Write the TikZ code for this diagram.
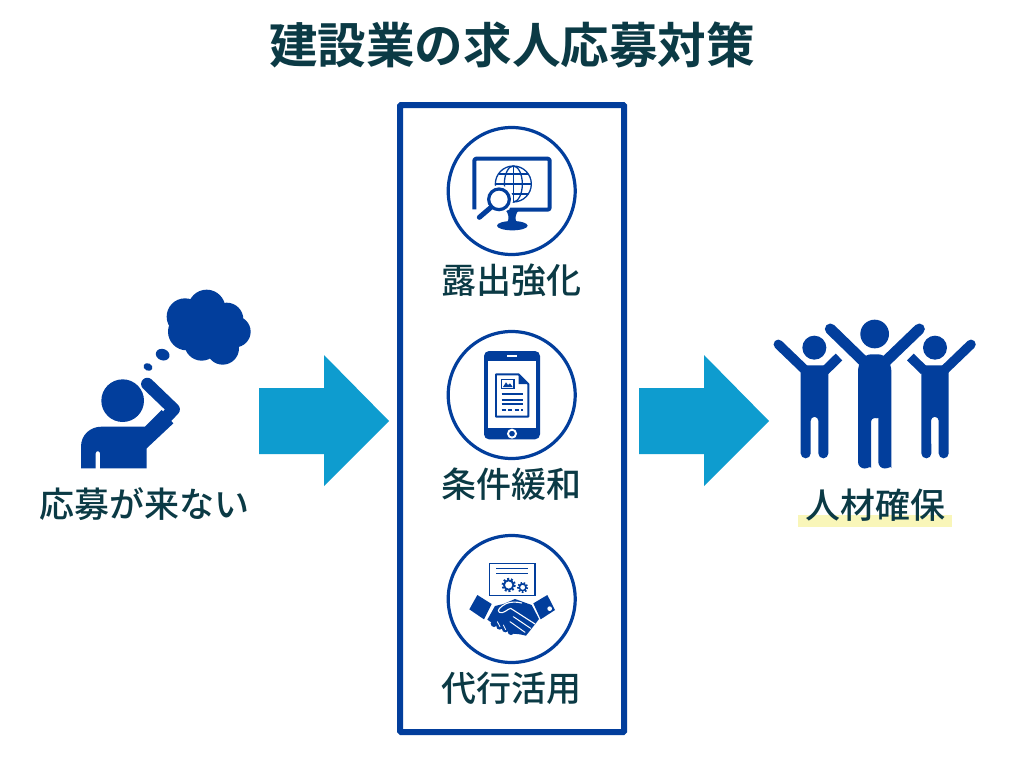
\documentclass[tikz,border=0pt]{standalone}
\usepackage{fontspec}
\newfontfamily\jpb{Noto Sans CJK JP}[UprightFont=* Bold]
\newfontfamily\jpm{Noto Sans CJK JP}[UprightFont=* Medium]
\definecolor{navy}{HTML}{023E9C}
\definecolor{sky}{HTML}{0E9CCF}
\definecolor{ink}{HTML}{0B3A45}
\definecolor{hilite}{HTML}{F9F6B9}
\tikzset{
  label text/.style={text=ink,font=\jpm\fontsize{35}{38}\selectfont,inner sep=0pt,anchor=center},
  badge/.style={draw=navy,line width=3.2pt,fill=white},
  bigarrow/.style={fill=sky,draw=none},
  zoomA/.style={shift={(420,110)},x=0.33333pt,y=-0.33333pt},
  zoomB/.style={shift={(420,320)},x=0.33333pt,y=-0.33333pt},
  zoomC/.style={shift={(420,525)},x=0.33333pt,y=-0.33333pt},
  zoomD/.style={shift={(30,280)},x=0.33333pt,y=-0.33333pt},
  zoomE/.style={shift={(765,310)},x=0.33333pt,y=-0.33333pt},
  limb/.style={draw=navy,line cap=round,line join=round},
}
\begin{document}
\begin{tikzpicture}[x=1pt,y=-1pt]
\useasboundingbox[fill=white] (0,0) rectangle (1024,768);
% title
\node[text=ink,font=\jpb\fontsize{48.6}{52}\selectfont,inner sep=0pt] (title) at (512,45) {建設業の求人応募対策};
% frame
\node[draw=navy,line width=6pt,minimum width=224pt,minimum height=627pt,inner sep=0pt,rounded corners=1pt] (frame) at (512,418.5) {};
% arrows
\fill[bigarrow] (259,388)--(324,388)--(324,355)--(389,421)--(324,486)--(324,454)--(259,454)--cycle;
\fill[bigarrow] (639,388)--(704,388)--(704,355)--(769,421)--(704,486)--(704,454)--(639,454)--cycle;
% badges
\node[badge,circle,minimum size=127pt,inner sep=0pt] (b1) at (511.7,191) {};
\node[badge,circle,minimum size=127pt,inner sep=0pt] (b2) at (511.7,395) {};
\node[badge,circle,minimum size=127pt,inner sep=0pt] (b3) at (511.7,599) {};
% monitor icon
\begin{scope}[zoomA]
  \draw[navy,line width=4pt,line join=round,rounded corners=2pt] (163,298)--(163,146)--(389,146)--(389,299)--(268,299);
  \fill[navy] (256,299)--(298,299) .. controls (286,310) and (284,325) .. (290,338)--(262,338) .. controls (268,325) and (266,310) .. (256,299)--cycle;
  \fill[navy] (277,347) ellipse [x radius=46,y radius=14];
  \begin{scope}[navy,line width=1.3pt]
    \draw (280,222) circle (54);
    \draw (280,222) ellipse [x radius=27,y radius=54];
    \draw (280,168)--(280,276);
    \draw (226,222)--(334,222);
    \draw (236,192)--(324,192);
    \draw (236,252)--(324,252);
  \end{scope}
  \fill[white] (237,268) circle (42);
  \draw[navy,line width=3.2pt,fill=white] (237,268) circle (31);
  \draw[navy,line width=5pt,line cap=round] (213,292)--(178,322);
\end{scope}
% phone icon
\begin{scope}[zoomB]
  \fill[navy,rounded corners=5pt] (192,93) rectangle (360,358);
  \fill[white] (205,122) rectangle (347,323);
  \fill[white] (262,104) rectangle (290,110);
  \draw[white,line width=1.9pt] (276,341) circle (12);
  \draw[navy,line width=1.9pt,line join=round] (228,163)--(296,163)--(325,192)--(325,290)--(228,290)--cycle;
  \fill[navy] (296,163)--(325,192)--(296,192)--cycle;
  \draw[navy,line width=1.3pt] (244,178) rectangle (282,205);
  \fill[navy] (249,201)--(258,187)--(264,195)--(270,190)--(278,201)--cycle;
  \draw[navy,line width=1.4pt] (245,222)--(308,222) (245,240)--(308,240) (245,252)--(308,252);
  \draw[navy,line width=1.6pt,dash pattern=on 4pt off 2.5pt] (245,270)--(308,270);
\end{scope}
% handshake icon
\begin{scope}[zoomC]
  \draw[navy,line width=1.6pt,fill=white] (208,115) rectangle (345,212);
  \draw[navy,line width=1.6pt] (229,130)--(325,130) (229,146)--(325,146);
  \draw[navy,line width=1.8pt] (266,180) circle (14);
  \draw[navy,line width=2.2pt,dash pattern=on 1.9pt off 1.9pt] (266,180) circle (18);
  \draw[navy,line width=1.5pt] (308,187) circle (10);
  \draw[navy,line width=1.9pt,dash pattern=on 1.6pt off 1.6pt] (308,187) circle (14);
  \fill[navy] (172,210)--(215,237)--(192,283)--(148,253)--cycle;
  \fill[navy] (340,235)--(382,210)--(405,255)--(362,283)--cycle;
  \fill[white] (389,251) circle (7);
  \fill[navy] (202,284)--(225,243)--(250,237)--(285,222)--(335,240)--(357,282)--(345,298)--(318,332)--(300,328)--(280,326)--(225,300)--cycle;
  \foreach \p/\q in {222/296,239/304,256/312,273/320} \fill[navy] (\p,\q) circle (10);
  \draw[white,line width=1.1pt,line cap=round,line join=round] (345,297)--(272,250) .. controls (262,252) and (250,268) .. (238,262) .. controls (230,256) and (240,246) .. (258,236) .. controls (270,230) and (290,230) .. (305,234);
  \draw[white,line width=1pt,line cap=round] (280,275)--(332,310) (270,290)--(315,322);
  \draw[white,line width=.8pt,line cap=round] (232,290)--(240,305) (250,300)--(257,314);
\end{scope}
% thinking person
\begin{scope}[zoomD]
  \fill[navy] (465,110) circle (55) (530,85) circle (56) (590,118) circle (50) (615,155) circle (47)
    (578,205) circle (49) (515,190) circle (52) (470,155) circle (56) (540,150) circle (70);
  \fill[navy,rotate around={-20:(398,224)}] (398,224) ellipse [x radius=21,y radius=17];
  \fill[navy,rotate around={-25:(354,261)}] (354,261) ellipse [x radius=14,y radius=11];
  \fill[navy] (278,362) circle (64);
  \fill[navy] (153,565)--(153,500) .. controls (153,465) and (180,440) .. (215,440)--(345,440)--(395,390)--(430,430)--(350,505)--(350,565)--(210,565)--(210,520) arc (0:-180:6.5)--(197,565)--cycle;
  \draw[white,line width=14.5pt,line cap=round] (352,312)--(395,354);
  \draw[navy,line width=12.5pt,line cap=round,line join=round] (352,312)--(431,388)--(380,442);
\end{scope}
% cheering people
\begin{scope}[zoomE]
  \fill[navy] (329,72) circle (43) (148,113) circle (36) (510,113) circle (36);
  % centre
  \draw[limb,line width=11pt] (196,57)--(300,158);
  \draw[limb,line width=11pt] (463,57)--(358,158);
  \fill[navy,rounded corners=6pt] (279,165)--(300,133)--(358,133)--(379,165)--(379,456) {[sharp corners] arc (0:180:19.5)}--(340,335) {[sharp corners] arc (0:-180:11)}--(318,456) {[sharp corners] arc (0:180:19.5)}--cycle;
  % left
  \draw[limb,line width=9.5pt] (40,103)--(118,178);
  \draw[navy,line width=9.5pt,line cap=butt] (222,141)--(180,182);
  \fill[navy] (107,200)--(107,166)--(190,166)--(190,430) arc (0:180:15)--(160,332) arc (0:-180:11.5)--(137,430) arc (0:180:15)--cycle;
  % right
  \draw[limb,line width=9.5pt] (618,103)--(540,178);
  \draw[navy,line width=9.5pt,line cap=butt] (436,141)--(478,182);
  \fill[navy] (469,200)--(469,166)--(551,166)--(551,430) arc (0:180:15)--(521,332) arc (0:-180:11.5)--(499,430) arc (0:180:15)--cycle;
\end{scope}
% highlight
\fill[hilite] (798,515) rectangle (952,527);
% labels
\node[label text] (l1) at (511.5,280) {露出強化};
\node[label text] (l2) at (511.5,484) {条件緩和};
\node[label text] (l3) at (511.5,688) {代行活用};
\node[label text] (l4) at (144,504) {応募が来ない};
\node[label text] (l5) at (875.5,505) {人材確保};
\end{tikzpicture}
\end{document}
